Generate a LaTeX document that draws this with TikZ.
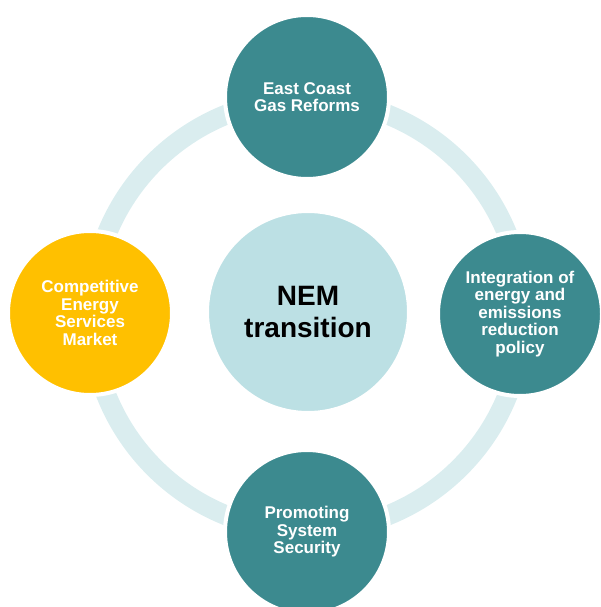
\documentclass[tikz,border=0pt]{standalone}
\usepackage{fontspec}
\setmainfont{Liberation Sans}
\usetikzlibrary{positioning}

\definecolor{topicteal}{HTML}{3C8A8F}
\definecolor{marketgold}{HTML}{FFC000}
\definecolor{corecyan}{HTML}{BCE0E4}
\definecolor{ringcyan}{HTML}{DAEDEF}

\begin{document}
\begin{tikzpicture}[x=1pt,y=-1pt,
  ring/.style={draw=ringcyan,line width=20pt},
  topic/.style={circle,fill=topicteal,draw=white,line width=4pt,
    minimum size=164pt,inner sep=0pt,align=center,text=white,
    font=\bfseries\fontsize{17}{17.5}\selectfont},
  core/.style={circle,fill=corecyan,draw=white,line width=4pt,
    minimum size=202pt,inner sep=0pt,align=center,text=black,
    font=\bfseries\fontsize{28}{32}\selectfont}]
\useasboundingbox (0,0) rectangle (601,607);

% ring behind the four topics
\coordinate (hub) at (307,315);
\draw[ring] (hub) circle (216pt);

\node (nem) at (308,312) [core] {NEM\\transition};

\node (gas) at (307,97) [topic] {East Coast\\Gas Reforms};
\node (policy) at (520,314) [topic] {Integration of\\energy and\\emissions\\reduction\\policy};
\node (security) at (307,532) [topic] {Promoting\\System\\Security};
\node (market) at (90,313) [topic,fill=marketgold] {Competitive\\Energy\\Services\\Market};

\end{tikzpicture}
\end{document}
